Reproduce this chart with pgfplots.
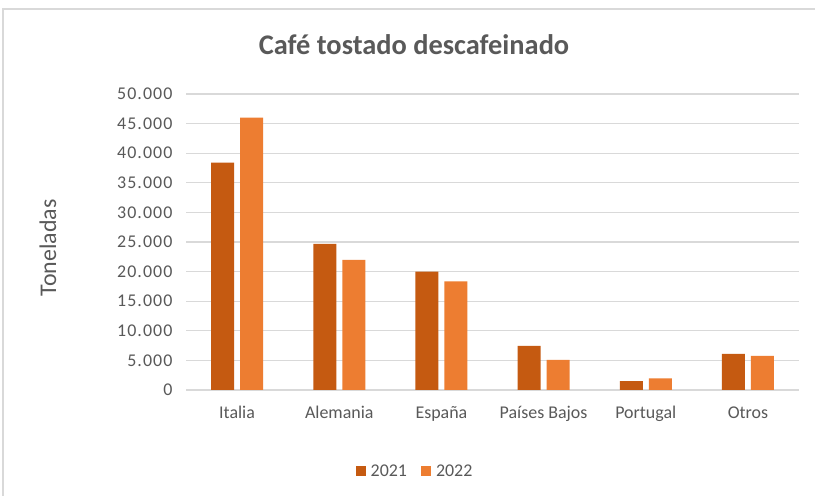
\documentclass[border=0pt]{standalone}
\usepackage{pgfplots}
\pgfplotsset{compat=1.18}
\usepackage{fontspec}
\setmainfont{Carlito}
\newfontfamily\tickfont[LetterSpace=6]{Carlito}
\definecolor{c21}{HTML}{C55A11}
\definecolor{c22}{HTML}{ED7D31}
\definecolor{txt}{HTML}{595959}
\definecolor{gridc}{HTML}{D9D9D9}
\begin{document}
\begin{tikzpicture}[x=1bp,y=1bp]
\path[use as bounding box] (0,0) rectangle (815,496);
\fill[white] (0,0) rectangle (815,496);
\draw[gridc, line width=1.5bp] (3,0) -- (3,487) -- (815,487);
\node[txt, font=\fontsize{28.5}{32}\selectfont\bfseries] at (414,451) {Café tostado descafeinado};
\node[txt, rotate=90, font=\fontsize{24}{28}\selectfont] at (48,248) {Toneladas};
\begin{axis}[
  at={(186bp,106bp)}, anchor=south west,
  scale only axis, width=613bp, height=296bp,
  xmin=-0.5, xmax=5.5, ymin=0, ymax=50000,
  ybar=6bp, bar width=23bp,
  axis line style={draw=none},
  major tick length=0pt,
  ytick={0,5000,...,50000},
  xtick=data,
  xticklabels={Italia,Alemania,España,Países Bajos,Portugal,Otros},
  xmajorgrids=false, ymajorgrids=true,
  major grid style={draw=gridc, line width=1.2bp},
  /pgf/number format/.cd, 1000 sep={.}, assume math mode=true,
  /pgfplots/.cd,
  scaled y ticks=false,
  ticklabel style={txt, font=\fontsize{18}{21}\selectfont},
  yticklabel style={anchor=east, xshift=-10bp, font=\fontsize{18}{21}\selectfont\tickfont},
  xticklabel style={anchor=base, yshift=-29bp},
  legend style={at={(0.3736,-0.274)}, anchor=center, draw=none, legend columns=2,
    font=\fontsize{18}{21}\selectfont, text=txt,
    /tikz/every odd column/.append style={column sep=3bp},
    /tikz/every even column/.append style={column sep=12bp}},
  legend image code/.code={\fill[#1] (0bp,-5bp) rectangle (10bp,5bp);},
]
\addplot[fill=c21, draw=none] coordinates {(0,38400) (1,24700) (2,20000) (3,7450) (4,1500) (5,6100)};
\addplot[fill=c22, draw=none] coordinates {(0,46000) (1,22000) (2,18350) (3,5100) (4,1980) (5,5750)};
\legend{2021,2022}
\end{axis}
\end{tikzpicture}
\end{document}
